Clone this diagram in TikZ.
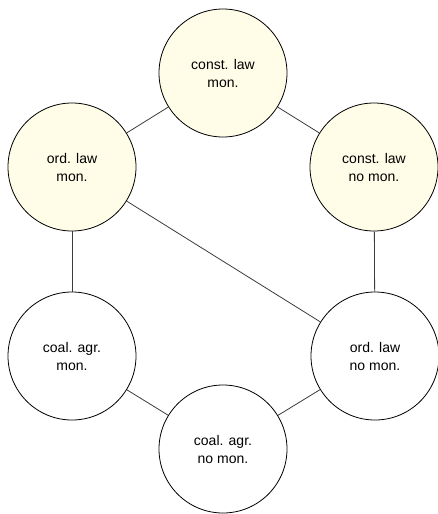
\documentclass[tikz,border=0pt]{standalone}
\usepackage{fontspec}
\setmainfont{Liberation Sans}
\usepackage{xcolor}
\usetikzlibrary{arrows.meta}
\definecolor{lawfill}{RGB}{255,253,231}
\definecolor{edgegray}{RGB}{60,60,60}

\begin{document}
\begin{tikzpicture}[x=1pt,y=-1pt]
                \useasboundingbox (0,0) rectangle (438,514);
                \begin{scope}[every node/.style={circle,draw=black,line width=0.8pt,minimum size=128pt,inner sep=0pt,align=center,font=\fontsize{14}{18}\selectfont,fill=white}]
                    \node[fill=lawfill] (1) at (223,73) {const. law\\mon.};
                    \node[fill=lawfill] (2) at (72,167) {ord. law\\mon.};
                    \node[fill=lawfill] (3) at (374,167) {const. law\\no mon.};
                    \node (4) at (72,356) {coal. agr.\\mon.};
                    \node (5) at (375,356) {ord. law\\no mon.};
                    \node (6) at (223,449) {coal. agr.\\no mon.};
                \end{scope}
                \begin{scope}[every edge/.style={draw=edgegray,line width=0.8pt}]
                    \path [-] (1) edge (2);
                    \path [-] (1) edge (3);
                    \path [-] (2) edge (4);
                    \path [-] (2) edge (5);
                    \path [-] (3) edge (5);
                    \path [-] (4) edge (6);
                    \path [-] (6) edge (5);
                \end{scope}
            \end{tikzpicture}
\end{document}
